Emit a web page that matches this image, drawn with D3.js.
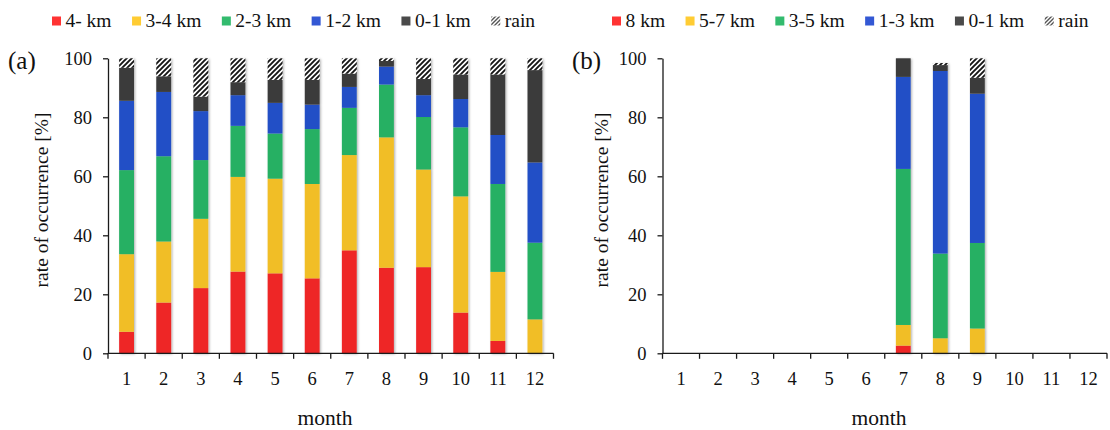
<!DOCTYPE html>
<html>
<head>
<meta charset="utf-8">
<script src="https://cdn.jsdelivr.net/npm/d3@7"></script>
<style>
  html, body { margin: 0; padding: 0; background: #fff; }
  svg { display: block; font-family: "Liberation Serif", "Times New Roman", serif; }
</style>
</head>
<body>
<svg id="chart" width="1110" height="430"></svg>
<script>
// ---------- data ----------
const months = ["1","2","3","4","5","6","7","8","9","10","11","12"];
const yTicks = [0, 20, 40, 60, 80, 100];

// panel (a)
const seriesA = ["4- km", "3-4 km", "2-3 km", "1-2 km", "0-1 km", "rain"];
const a_4km  = [7.3, 17.2, 22.1, 27.7, 27.1, 25.4, 34.9, 29.0, 29.2, 13.8, 4.2, 0];
const a_3_4  = [26.3, 20.7, 23.5, 32.1, 32.1, 32.0, 32.3, 44.2, 33.1, 39.4, 23.4, 11.5];
const a_2_3  = [28.5, 28.9, 19.9, 17.3, 15.3, 18.6, 16.0, 17.9, 17.8, 23.4, 29.8, 26.0];
const a_1_2  = [23.5, 21.8, 16.6, 10.4, 10.4, 8.3, 7.1, 6.1, 7.4, 9.6, 16.6, 27.2];
const a_0_1  = [11.2, 5.3, 4.9, 4.4, 7.8, 8.4, 4.5, 1.9, 5.5, 8.3, 20.5, 31.3];
const a_rain = [3.2, 6.1, 13.0, 8.1, 7.3, 7.3, 5.2, 0.9, 7.0, 5.5, 5.5, 4.0];

// panel (b)
const seriesB = ["8 km", "5-7 km", "3-5 km", "1-3 km", "0-1 km", "rain"];
const b_8km  = [0, 0, 0, 0, 0, 0, 2.6, 0, 0, 0, 0, 0];
const b_5_7  = [0, 0, 0, 0, 0, 0, 7.0, 5.1, 8.4, 0, 0, 0];
const b_3_5  = [0, 0, 0, 0, 0, 0, 52.9, 28.7, 29.0, 0, 0, 0];
const b_1_3  = [0, 0, 0, 0, 0, 0, 31.2, 61.9, 50.6, 0, 0, 0];
const b_0_1  = [0, 0, 0, 0, 0, 0, 6.3, 2.0, 5.4, 0, 0, 0];
const b_rain = [0, 0, 0, 0, 0, 0, 0, 0.7, 6.6, 0, 0, 0];

// ---------- styles ----------
const barColors    = ["#EE2628", "#F1BE26", "#25B064", "#2450C6", "#3A3A3A", "url(#hatch)"];
const legendColors = ["#FF3333", "#FFCC33", "#33BB6E", "#3358D4", "#4A4A4A", "url(#hatchLegend)"];

const svg = d3.select("#chart");
const defs = svg.append("defs");

function makeHatch(id, size, sw, color) {
  const p = defs.append("pattern")
    .attr("id", id).attr("patternUnits", "userSpaceOnUse")
    .attr("width", size).attr("height", size);
  p.append("rect").attr("width", size).attr("height", size).attr("fill", "#fff");
  p.append("path")
    .attr("d", `M0,${size} L${size},0 M${-size/2},${size/2} L${size/2},${-size/2} M${size/2},${size*1.5} L${size*1.5},${size/2}`)
    .attr("stroke", color).attr("stroke-width", sw);
}
makeHatch("hatch", 5, 1.9, "#151515");
makeHatch("hatchLegend", 4, 1.4, "#555");

const shadow = defs.append("filter").attr("id", "shadow")
  .attr("x", "-30%").attr("y", "-5%").attr("width", "160%").attr("height", "110%");
shadow.append("feDropShadow").attr("dx", 1.2).attr("dy", 0.8)
  .attr("stdDeviation", 0.9).attr("flood-color", "#000").attr("flood-opacity", 0.3);

const yTop = 58.3, yBottom = 353.3;

function drawPanel(opt) {
  const { x0, x1, tag, tagX, seriesNames, arrays, legendX, titleX, monthX } = opt;
  const g = svg.append("g");

  const x = d3.scaleBand().domain(months).range([x0, x1]).paddingInner(0.6).paddingOuter(0.3);
  const xb = d3.scaleBand().domain(months).range([x0, x1]); // category boundaries
  const y = d3.scaleLinear().domain([0, 100]).range([yBottom, yTop]);

  const table = months.map((m, i) => {
    const row = { month: m };
    seriesNames.forEach((s, k) => row[s] = arrays[k][i]);
    return row;
  });
  const stacked = d3.stack().keys(seriesNames)(table);

  const monthGroups = g.append("g").selectAll("g.month")
    .data(months).join("g").attr("class", "month").attr("filter", "url(#shadow)");
  monthGroups.each(function(m, i) {
    const mg = d3.select(this);
    stacked.forEach((layer, k) => {
      const d = layer[i];
      if (d[1] - d[0] <= 0) return;
      mg.append("rect")
        .attr("x", x(m))
        .attr("width", x.bandwidth())
        .attr("y", y(d[1]))
        .attr("height", y(d[0]) - y(d[1]))
        .attr("fill", barColors[k]);
    });
  });

  const axisColor = "#1a1a1a";
  const yAxis = g.append("g").attr("transform", `translate(${x0},0)`)
    .call(d3.axisLeft(y).tickValues(yTicks).tickSize(5).tickPadding(11).tickSizeOuter(0));
  yAxis.select(".domain").attr("stroke", axisColor).attr("stroke-width", 1.3);
  yAxis.selectAll(".tick line").attr("stroke", axisColor).attr("stroke-width", 1.3);
  yAxis.selectAll(".tick text").attr("fill", "#111").attr("font-size", 18.5)
    .attr("font-family", "Liberation Serif");

  g.append("line").attr("x1", x0).attr("x2", x1).attr("y1", yBottom).attr("y2", yBottom)
    .attr("stroke", axisColor).attr("stroke-width", 1.3);
  const bounds = months.map(m => xb(m)).concat([xb(months[months.length - 1]) + xb.bandwidth()]);
  g.append("g").selectAll("line").data(bounds).join("line")
    .attr("x1", d => d).attr("x2", d => d)
    .attr("y1", yBottom).attr("y2", yBottom + 5.5)
    .attr("stroke", axisColor).attr("stroke-width", 1.3);
  g.append("g").selectAll("text").data(months).join("text")
    .attr("x", d => xb(d) + xb.bandwidth() / 2)
    .attr("y", 385)
    .attr("text-anchor", "middle")
    .attr("font-size", 18.5).attr("fill", "#111")
    .text(d => d);

  g.append("text").attr("x", monthX).attr("y", 424.5).attr("text-anchor", "middle")
    .attr("font-size", 21.5).attr("fill", "#111").text("month");
  g.append("text")
    .attr("transform", `translate(${titleX},200) rotate(-90)`)
    .attr("text-anchor", "middle")
    .attr("font-size", 19.5).attr("fill", "#111").text("rate of occurrence [%]");

  g.append("text").attr("x", tagX).attr("y", 69).attr("font-size", 25).attr("fill", "#111").text(tag);

  const lg = g.append("g");
  let cx = legendX;
  seriesNames.forEach((s, k) => {
    lg.append("rect").attr("x", cx).attr("y", 16.5).attr("width", 9).attr("height", 9)
      .attr("fill", legendColors[k]);
    const t = lg.append("text").attr("x", cx + 13.5).attr("y", 26.7)
      .attr("font-size", 19.5).attr("fill", "#111").text(s);
    cx += 13.5 + t.node().getComputedTextLength() + 20.5;
  });
}

drawPanel({
  x0: 108, x1: 553.5, tag: "(a)", tagX: 8,
  seriesNames: seriesA, arrays: [a_4km, a_3_4, a_2_3, a_1_2, a_0_1, a_rain],
  legendX: 52, titleX: 47.5, monthX: 325
});
drawPanel({
  x0: 662.5, x1: 1107, tag: "(b)", tagX: 572,
  seriesNames: seriesB, arrays: [b_8km, b_5_7, b_3_5, b_1_3, b_0_1, b_rain],
  legendX: 612, titleX: 607.5, monthX: 879
});
</script>
</body>
</html>
